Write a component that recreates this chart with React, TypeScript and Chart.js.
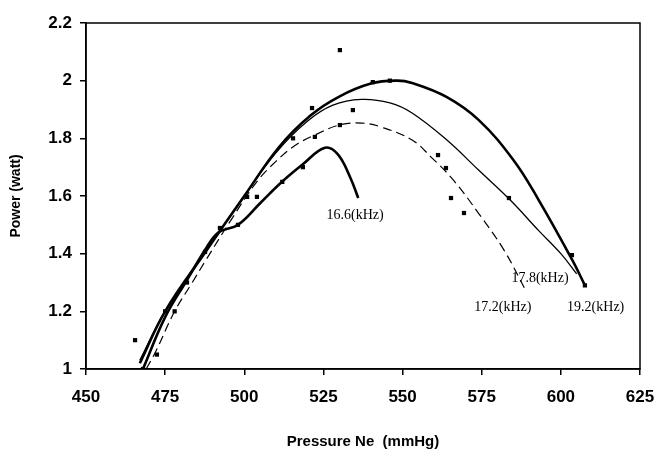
import React, { useEffect, useRef } from "react";
import { Chart, registerables } from "chart.js";

Chart.register(...registerables);

// x: Pressure Ne (mmHg), y: Power (watt)
const pressure166 = [468, 475, 482, 488, 492, 498, 505, 512, 518.5, 525.5, 529.5, 533.4, 536];
const power166 = [1.0, 1.18, 1.31, 1.42, 1.475, 1.5, 1.575, 1.65, 1.71, 1.767, 1.745, 1.666, 1.593];

const pressure172 = [469, 472, 478, 483, 488, 496, 504, 510, 516, 522, 530, 537, 543, 553, 559, 566, 574, 582, 589];
const power172 = [1.0, 1.06, 1.2, 1.29, 1.38, 1.52, 1.65, 1.72, 1.775, 1.81, 1.846, 1.853, 1.84, 1.794, 1.735, 1.656, 1.54, 1.413, 1.27];

const pressure178 = [467, 475, 488, 500, 510, 520, 528, 537, 546, 553, 564, 574, 584, 593, 600, 605];
const power178 = [1.03, 1.2, 1.41, 1.6, 1.75, 1.86, 1.915, 1.935, 1.923, 1.888, 1.794, 1.69, 1.586, 1.48, 1.4, 1.33];

const pressure192 = [467, 475, 488, 500, 511, 521, 530, 540, 548, 553, 564, 574, 585, 593, 603.5, 607.6];
const power192 = [1.02, 1.2, 1.41, 1.6, 1.77, 1.88, 1.945, 1.99, 2.0, 1.992, 1.943, 1.864, 1.725, 1.586, 1.38, 1.29];

const markerPressure = [465.5, 468, 472.4, 475, 478, 481.9, 487.6, 492.3, 498, 500.9, 504, 512, 515.4, 518.5, 521.4, 522.3, 530.2, 530.2, 534.3, 540.6, 546, 561.2, 563.7, 565.3, 569.4, 583.6, 603.5, 607.6];
const markerPower = [1.1, 1.0, 1.05, 1.2, 1.2, 1.3, 1.406, 1.489, 1.5, 1.597, 1.597, 1.649, 1.8, 1.7, 1.905, 1.805, 2.106, 1.846, 1.898, 1.995, 2.0, 1.742, 1.697, 1.593, 1.541, 1.593, 1.395, 1.29];

const curveLabels = ["16.6(kHz)", "17.8(kHz)", "17.2(kHz)", "19.2(kHz)"];
const labelPressure = [535, 593.4, 581.7, 611];
const labelPower = [1.534, 1.316, 1.215, 1.215];

const xTicks = [450, 475, 500, 525, 550, 575, 600, 625];
const yTicks = [1, 1.2, 1.4, 1.6, 1.8, 2, 2.2];

const pts = (xs: number[], ys: number[]) => xs.map((x, i) => ({ x, y: ys[i] }));

const tickFont = { family: '"Liberation Sans Narrow", "Arial Narrow", "Liberation Sans", Arial, sans-serif', size: 17, weight: "bold" as const };

export default function App() {
  const ref = useRef<HTMLCanvasElement | null>(null);
  useEffect(() => {
    if (!ref.current) return;
    const extras = {
      id: "extras",
      afterDatasetsDraw(chart: any) {
        const { ctx, chartArea, scales } = chart;
        ctx.save();
        ctx.strokeStyle = "#000";
        ctx.lineWidth = 1.5;
        ctx.strokeRect(chartArea.left, chartArea.top, chartArea.right - chartArea.left, chartArea.bottom - chartArea.top);
        ctx.fillStyle = "#000";
        ctx.font = '14px "Liberation Serif", "Times New Roman", serif';
        ctx.textAlign = "center";
        ctx.textBaseline = "middle";
        curveLabels.forEach((t, i) => {
          ctx.fillText(t, scales.x.getPixelForValue(labelPressure[i]), scales.y.getPixelForValue(labelPower[i]));
        });
        ctx.restore();
      },
    };
    const common = { borderColor: "#000", backgroundColor: "#000", pointRadius: 0, fill: false, tension: 0.4 };
    const chart = new Chart(ref.current, {
      type: "line",
      data: {
        datasets: [
          { ...common, label: "16.6", data: pts(pressure166, power166), borderWidth: 2.6 },
          { ...common, label: "17.2", data: pts(pressure172, power172), borderWidth: 1.2, borderDash: [9, 5] },
          { ...common, label: "17.8", data: pts(pressure178, power178), borderWidth: 1.3 },
          { ...common, label: "19.2", data: pts(pressure192, power192), borderWidth: 2.6 },
          {
            type: "scatter" as any,
            label: "points",
            data: pts(markerPressure, markerPower),
            showLine: false,
            pointStyle: "rect",
            pointRadius: 3,
            backgroundColor: "#000",
            borderColor: "#000",
            borderWidth: 0,
          } as any,
        ],
      },
      options: {
        animation: false,
        responsive: false,
        layout: { padding: { top: 23, right: 15, left: 0, bottom: 0 } },
        plugins: { legend: { display: false }, tooltip: { enabled: false } },
        scales: {
          x: {
            type: "linear",
            min: 450,
            max: 625,
            afterBuildTicks: (s: any) => { s.ticks = xTicks.map((v) => ({ value: v })); },
            afterFit: (s: any) => { s.height = 90; s.paddingLeft = 0; s.paddingRight = 0; },
            grid: { display: true, drawOnChartArea: false, drawTicks: true, tickLength: 6, color: "#000", lineWidth: 1.5 },
            border: { display: true, color: "#000", width: 1.5 },
            ticks: { color: "#000", font: tickFont, padding: 12, maxRotation: 0 },
            title: { display: true, text: "Pressure Ne  (mmHg)", color: "#000", font: { family: '"Liberation Sans", Arial, sans-serif', size: 15, weight: "bold" }, padding: { top: 0, bottom: 8 } },
          },
          y: {
            type: "linear",
            min: 1,
            max: 2.2,
            afterBuildTicks: (s: any) => { s.ticks = yTicks.map((v) => ({ value: v })); },
            afterFit: (s: any) => { s.width = 86; s.paddingTop = 0; s.paddingBottom = 0; },
            grid: { display: true, drawOnChartArea: false, drawTicks: true, tickLength: 6, color: "#000", lineWidth: 1.5 },
            border: { display: true, color: "#000", width: 1.5 },
            ticks: { color: "#000", font: tickFont, padding: 8, callback: (v: any) => String(Number(Number(v).toFixed(1))) },
            title: { display: true, text: "Power (watt)", color: "#000", font: { family: '"Liberation Sans", Arial, sans-serif', size: 14, weight: "bold" }, padding: { top: 8, bottom: 0 } },
          },
        },
      },
      plugins: [extras],
    });
    return () => chart.destroy();
  }, []);
  return (
    <div style={{ position: "fixed", left: 0, top: 0, width: 655, height: 459, background: "#fff" }}>
      <canvas ref={ref} width={655} height={459} style={{ display: "block" }} />
    </div>
  );
}
